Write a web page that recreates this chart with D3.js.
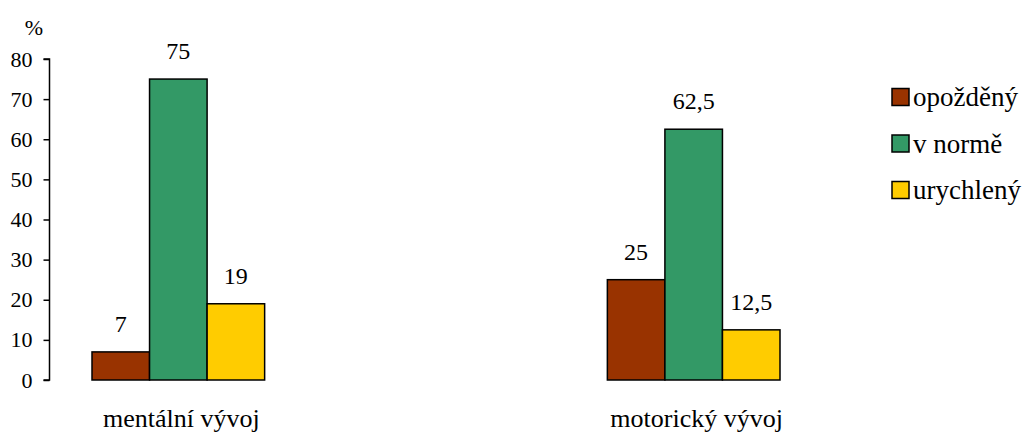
<!DOCTYPE html>
<html>
<head>
<meta charset="utf-8">
<script src="https://cdn.jsdelivr.net/npm/d3@7"></script>
</head>
<body style="margin:0">
<svg id="chart" width="1023" height="433" style="display:block"></svg>
<script>
// Groups along the x axis
const categories = ["mentální vývoj", "motorický vývoj"];
// Series (legend order)
const seriesNames = ["opožděný", "v normě", "urychlený"];
const seriesColors = ["#993300", "#339966", "#FFCC00"];
// Values per series, one per category
const opozdeny = [7, 25];
const vNorme = [75, 62.5];
const urychleny = [19, 12.5];
const seriesValues = [opozdeny, vNorme, urychleny];
// Y axis ticks
const yTicks = [0, 10, 20, 30, 40, 50, 60, 70, 80];

const fmt = v => String(v).replace(".", ",");

const svg = d3.select("#chart");

// Serif text throughout the chart
function serif(sel, size) {
  return sel
    .attr("font-family", "Liberation Serif")
    .attr("font-size", size)
    .style("font-family", '"Liberation Serif", "Times New Roman"');
}

const y = d3.scaleLinear().domain([0, 80]).range([380, 59]);

const x0 = d3.scaleBand()
  .domain(categories)
  .range([92, 780])
  .paddingInner(0.665)
  .paddingOuter(0);

const x1 = d3.scaleBand()
  .domain(seriesNames)
  .range([0, x0.bandwidth()])
  .padding(0);

// Y axis
const yAxis = d3.axisLeft(y).tickValues(yTicks).tickSize(6).tickPadding(11).tickFormat(d3.format("d"));
const gy = svg.append("g").attr("transform", "translate(49.5,0)").call(yAxis);
serif(gy, 22);
gy.select(".domain").attr("stroke", "#000").attr("stroke-width", 1.5).attr("d", `M-6,${y(80)}H0V${y(0)}H-6`);
gy.selectAll(".tick line").attr("stroke", "#000").attr("stroke-width", 1.5);
serif(gy.selectAll(".tick text"), 22).attr("fill", "#000");

// Unit label
serif(svg.append("text"), 22)
  .attr("x", 34).attr("y", 35)
  .attr("text-anchor", "middle")
  .text("%");

// Bars with value labels
const groups = svg.append("g").selectAll("g")
  .data(categories)
  .join("g")
  .attr("transform", d => `translate(${x0(d)},0)`);

groups.each(function (cat, ci) {
  const g = d3.select(this);
  seriesNames.forEach((s, si) => {
    const v = seriesValues[si][ci];
    g.append("rect")
      .attr("x", x1(s))
      .attr("y", y(v))
      .attr("width", x1.bandwidth())
      .attr("height", y(0) - y(v))
      .attr("fill", seriesColors[si])
      .attr("stroke", "#000")
      .attr("stroke-width", 1.5);
    serif(g.append("text"), 24)
      .attr("x", x1(s) + x1.bandwidth() / 2)
      .attr("y", y(v) - 20)
      .attr("text-anchor", "middle")
      .text(fmt(v));
  });
  serif(g.append("text"), 26)
    .attr("x", x0.bandwidth() / 2 + 3)
    .attr("y", 427)
    .attr("text-anchor", "middle")
    .text(cat);
});

// Legend
const legend = svg.append("g").attr("transform", "translate(892,0)");
seriesNames.forEach((s, i) => {
  const cy = 97 + i * 46.5;
  legend.append("rect")
    .attr("x", 0).attr("y", cy - 8.5)
    .attr("width", 17).attr("height", 17)
    .attr("fill", seriesColors[i])
    .attr("stroke", "#000").attr("stroke-width", 1.5);
  serif(legend.append("text"), 27)
    .attr("x", 21).attr("y", cy + 9)
    .text(s);
});
</script>
</body>
</html>
